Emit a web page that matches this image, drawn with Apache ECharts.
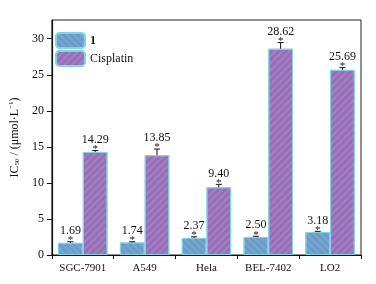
<!DOCTYPE html>
<html>
<head>
<meta charset="utf-8">
<script src="https://cdn.jsdelivr.net/npm/echarts@6/dist/echarts.min.js"></script>
<style>
  html, body { margin: 0; padding: 0; background: #fff; }
  #main { width: 376px; height: 284px; }
</style>
</head>
<body>
<div id="main"></div>
<script>
const categories = ['SGC-7901', 'A549', 'Hela', 'BEL-7402', 'LO2'];
const compound1 = [1.69, 1.74, 2.37, 2.50, 3.18];
const cisplatin = [14.29, 13.85, 9.40, 28.62, 25.69];
const err1 = [0.15, 0.1, 0.15, 0.1, 0.1];
const err2 = [0.2, 0.85, 0.4, 0.85, 0.3];

const font = 'Liberation Serif';

var chart = echarts.init(document.getElementById('main'));

// error bar + star + value label, drawn above each bar
function errorSeries(name, values, errs, side) {
    return {
        name: name + '_err',
        type: 'custom',
        silent: true,
        z: 5,
        data: values.map((v, i) => [i, v, errs[i]]),
        renderItem: function (params, api) {
            var band = api.size([1, 0])[0];
            var off = side * band * 0.2;
            var base = api.coord([api.value(0), api.value(1)]);
            var topPt = api.coord([api.value(0), api.value(1) + api.value(2)]);
            var x = base[0] + off;
            var capY = topPt[1];
            return {
                type: 'group',
                children: [
                    { type: 'line', shape: { x1: x, y1: base[1], x2: x, y2: capY }, style: { stroke: '#111', lineWidth: 1 } },
                    { type: 'line', shape: { x1: x - 3, y1: capY, x2: x + 3, y2: capY }, style: { stroke: '#111', lineWidth: 1 } },
                    { type: 'text', style: { x: x, y: capY - 7, text: '*', fill: '#111', font: '11px "' + font + '"', align: 'center', verticalAlign: 'top' } },
                    { type: 'text', style: { x: x, y: capY - 5, text: api.value(1).toFixed(2), fill: '#111', font: '12px "' + font + '"', align: 'center', verticalAlign: 'bottom' } }
                ]
            };
        }
    };
}

var option = {
    animation: false,
    textStyle: { fontFamily: font },
    grid: {
        left: 46, right: 15, top: 20, bottom: 29,
        show: true, borderColor: '#222', borderWidth: 1
    },
    legend: {
        orient: 'vertical',
        left: 50, top: 27,
        itemWidth: 29, itemHeight: 15, itemGap: 1,
        data: ['1', 'Cisplatin'],
        textStyle: {
            fontFamily: font, fontSize: 12, color: '#111',
            rich: { b: { fontFamily: font, fontSize: 12, fontWeight: 'bold', color: '#111' } }
        },
        formatter: function (name) { return name === '1' ? '{b|1}' : name; }
    },
    xAxis: {
        type: 'category',
        data: categories,
        axisLine: { lineStyle: { color: '#111', width: 1.2 } },
        axisTick: { show: true, length: 4, interval: 0, alignWithLabel: false, lineStyle: { color: '#111' } },
        axisLabel: { color: '#111', fontSize: 11, fontFamily: font, margin: 8, interval: 0 }
    },
    yAxis: {
        type: 'value',
        min: 0, max: 32.6, interval: 5,
        name: 'IC{sub|50} / (μmol·L{sup|−1})',
        nameLocation: 'middle',
        nameGap: 30,
        nameTextStyle: {
            fontFamily: font, fontSize: 12, color: '#111',
            rich: {
                sub: { fontSize: 7, fontFamily: font, color: '#111', verticalAlign: 'bottom', padding: [6, 0, 0, 0] },
                sup: { fontSize: 7, fontFamily: font, color: '#111', verticalAlign: 'top', padding: [0, 0, 6, 0] }
            }
        },
        splitLine: { show: false },
        axisLine: { show: true, lineStyle: { color: '#111', width: 1.2 } },
        axisTick: { show: true, length: 5, lineStyle: { color: '#111' } },
        axisLabel: { color: '#111', fontSize: 12, fontFamily: font, margin: 8, showMaxLabel: false }
    },
    series: [
        {
            name: '1',
            type: 'bar',
            barWidth: '40%',
            barGap: '0%',
            data: compound1,
            itemStyle: {
                color: '#62aed0',
                borderColor: '#7fd6e6',
                borderWidth: 1,
                decal: {
                    symbol: 'rect',
                    color: 'rgba(160,110,190,0.55)',
                    dashArrayX: [1, 0],
                    dashArrayY: [1.5, 2.5],
                    rotation: Math.PI / 4
                }
            }
        },
        {
            name: 'Cisplatin',
            type: 'bar',
            barWidth: '40%',
            barGap: '0%',
            data: cisplatin,
            itemStyle: {
                color: '#9072b8',
                borderColor: '#7fd6e6',
                borderWidth: 1,
                decal: {
                    symbol: 'rect',
                    color: 'rgba(200,130,200,0.55)',
                    dashArrayX: [1, 0],
                    dashArrayY: [1.5, 2.5],
                    rotation: -Math.PI / 4
                }
            }
        },
        errorSeries('1', compound1, err1, -1),
        errorSeries('Cisplatin', cisplatin, err2, 1)
    ]
};

chart.setOption(option);
</script>
</body>
</html>
